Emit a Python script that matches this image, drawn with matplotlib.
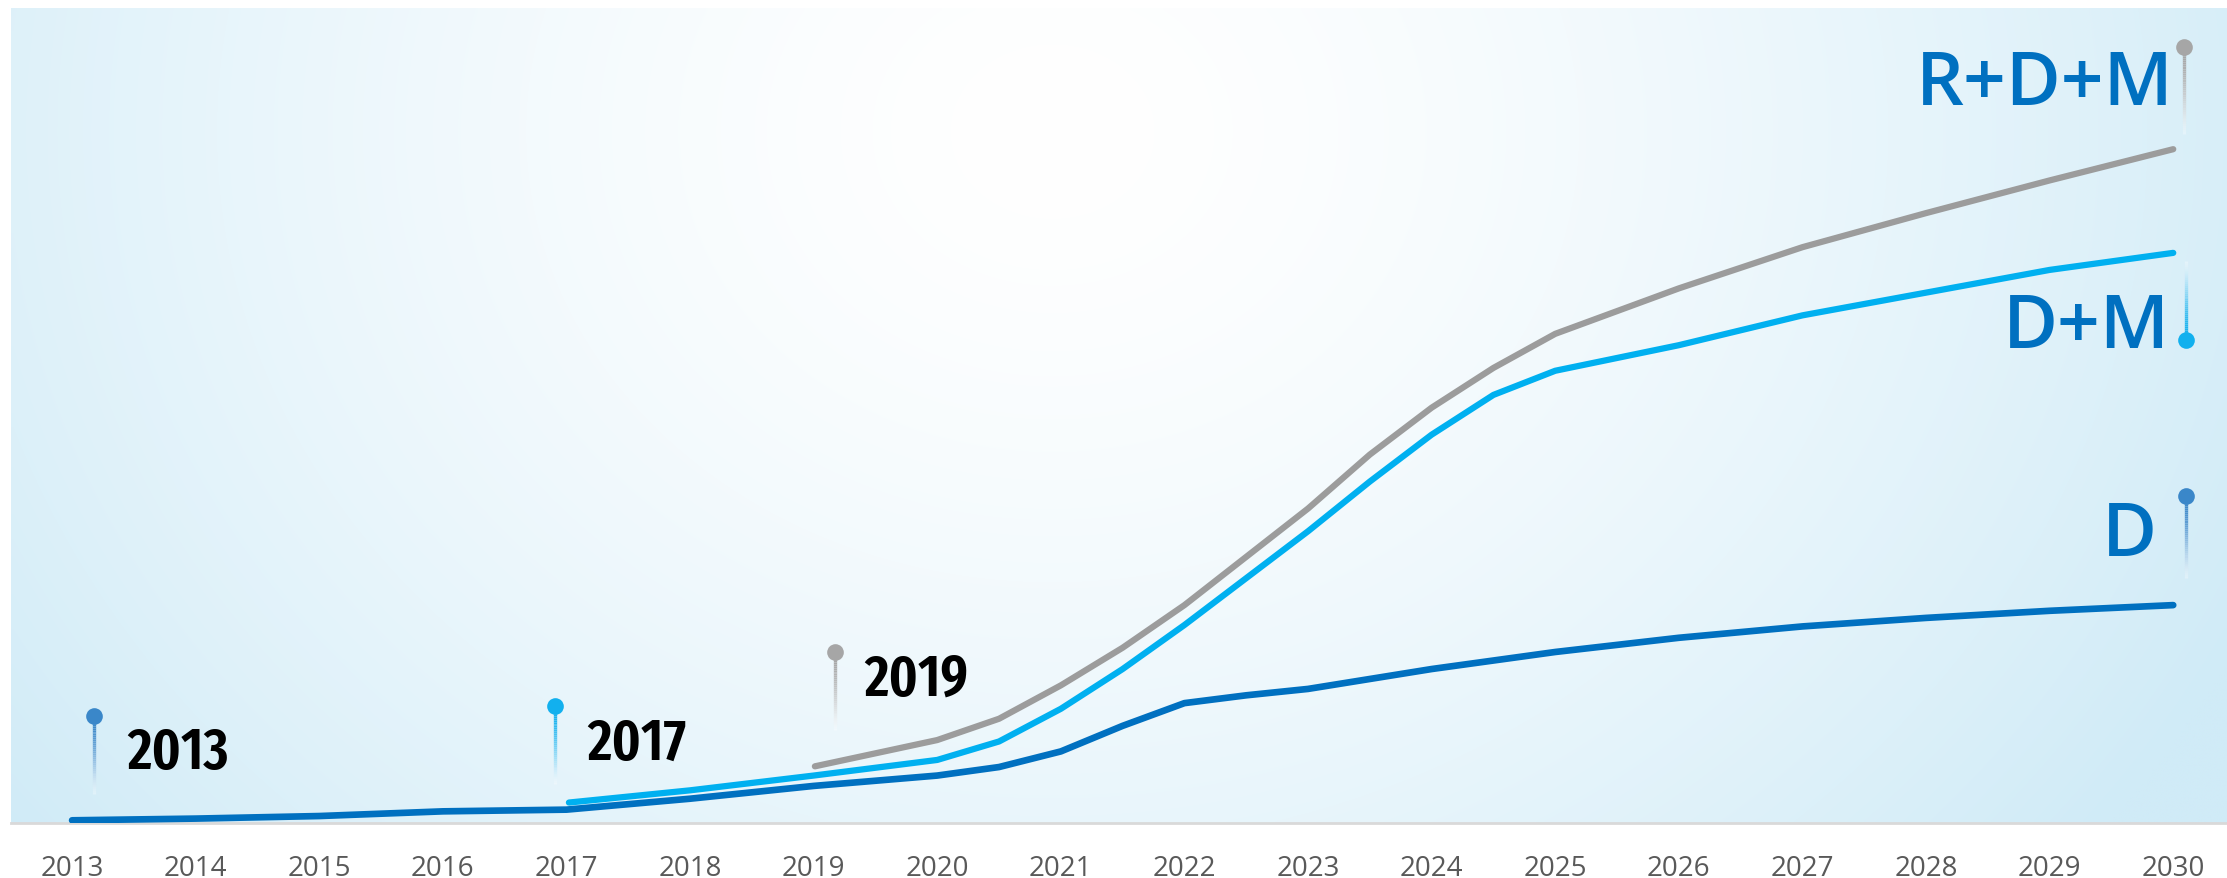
import os
import numpy as np
import matplotlib
matplotlib.use('Agg')
from matplotlib import pyplot as plt
from matplotlib import font_manager
from matplotlib.collections import LineCollection
from matplotlib.colors import to_rgb

# Series values (index units)
years_d = [2013, 2014, 2015, 2016, 2017, 2018, 2019, 2020, 2020.5, 2021, 2021.5,
           2022, 2022.5, 2023, 2024, 2025, 2026, 2027, 2028, 2029, 2030]
vals_d = [0.5, 1.7, 3.5, 6.8, 8, 15.7, 24.7, 32, 38, 49, 67,
          83, 88.5, 93, 107, 119, 129, 137, 143, 148, 152]

years_dm = [2017.02, 2018, 2019, 2020, 2020.5, 2021, 2021.5, 2022, 2022.5, 2023,
            2023.5, 2024, 2024.5, 2025, 2026, 2027, 2028, 2029, 2030]
vals_dm = [13, 21.6, 32, 43, 56, 79, 107, 138, 171, 204,
           239, 272, 300, 317, 335, 356, 372, 388, 400]

years_rdm = [2019.01, 2020, 2020.5, 2021, 2021.5, 2022, 2022.5, 2023, 2023.5,
             2024, 2024.5, 2025, 2026, 2027, 2028, 2029, 2030]
vals_rdm = [38.5, 57, 72, 95.5, 122, 152, 186, 220, 258,
            291, 319, 343, 375, 404, 428, 451, 473]

tick_years = list(range(2013, 2031))

# pins: (x, dot value, stem end value, colour)
pin_x = [2013.18, 2016.91, 2019.17, 2030.09, 2030.1, 2030.1]
pin_top = [74, 81, 119, 545, 339, 229]
pin_end = [19, 26, 64, 484, 394, 171]
pin_colors = ['#3A87C9', '#12B0EE', '#A6A6A6', '#A6A6A6', '#12B0EE', '#3A87C9']

year_labels = ['2013', '2017', '2019']
year_label_x = [2013.45, 2017.17, 2019.41]
year_label_y = [48, 55, 99]

series_labels = ['R+D+M', 'D+M', 'D']
series_label_x = [2030.0, 2029.97, 2029.87]
series_label_y = [518, 347, 201]

c_d = '#0070C0'
c_dm = '#00B0F0'
c_rdm = '#9C9C9C'


def narrow_font():
    # narrow proportional semibold/bold face, if one is installed
    paths = [f.fname for f in font_manager.fontManager.ttflist]
    for key in ['extracondensedsemibold', 'extracondensedbold',
                'narrow-bold', 'narrowbold', 'condensedbold']:
        for fn in paths:
            base = os.path.basename(fn).lower().replace('_', '').replace('-', '')
            if 'mono' in base or 'extrabold' in base:
                continue
            if key.replace('-', '') in base:
                return font_manager.FontProperties(fname=fn)
    return None


W, H = 2227, 879
fig = plt.figure(figsize=(W / 100, H / 100), dpi=100)
fig.patch.set_facecolor('white')
ax = fig.add_axes([11 / W, 55 / H, 1 - 11 / W, (870 - 55) / H])

x0, x1 = 2012.506, 2030.435
y0, y1 = -1.4, 572.4

# soft radial background
u = np.linspace(0, 1, 400)
v = np.linspace(1, 0, 200)
U, V = np.meshgrid(u, v)
d = np.sqrt(((U - 0.47) / 0.6) ** 2 + ((V - 0.85) / 1.4) ** 2)
t = np.clip(d, 0, 1) ** 1.5
edge = np.array(to_rgb('#D0EBF7'))
grad = (1 - t)[..., None] * np.ones(3) + t[..., None] * edge
ax.imshow(grad, extent=(x0, x1, y0, y1), aspect='auto', zorder=0, interpolation='bilinear')

ax.plot(years_d, vals_d, color=c_d, lw=4.8, solid_capstyle='round', solid_joinstyle='round', zorder=3)
ax.plot(years_dm, vals_dm, color=c_dm, lw=4.5, solid_capstyle='round', solid_joinstyle='round', zorder=3)
ax.plot(years_rdm, vals_rdm, color=c_rdm, lw=4.5, solid_capstyle='round', solid_joinstyle='round', zorder=3)

# pins with fading stems
for px, top, end, col in zip(pin_x, pin_top, pin_end, pin_colors):
    n = 40
    ys = np.linspace(top, end, n + 1)
    segs = [[(px, ys[i]), (px, ys[i + 1])] for i in range(n)]
    rgb = np.array(to_rgb(col))
    cols = []
    for i in range(n):
        f = (i / (n - 1)) ** 1.8
        c = rgb * (1 - f) + np.ones(3) * f
        cols.append((*c, 1 - 0.7 * f))
    ax.add_collection(LineCollection(segs, colors=cols, linewidths=2.4, zorder=4))
    ax.plot([px], [top], 'o', color=col, ms=12, mec='none', zorder=5)

fp = narrow_font()
for txt, lx, ly in zip(year_labels, year_label_x, year_label_y):
    if fp is not None:
        ax.text(lx, ly, txt, fontproperties=fp, fontsize=42, color='black',
                ha='left', va='center', zorder=6)
    else:
        ax.text(lx, ly, txt, fontsize=34, fontweight='bold', color='black',
                ha='left', va='center', zorder=6)

for txt, lx, ly in zip(series_labels, series_label_x, series_label_y):
    ax.text(lx, ly, txt, fontsize=54, fontweight='semibold', color=c_d,
            family=['Open Sans', 'DejaVu Sans'], ha='right', va='center', zorder=6)

ax.set_xlim(x0, x1)
ax.set_ylim(y0, y1)
ax.set_xticks(tick_years)
ax.set_xticklabels([str(y) for y in tick_years], fontsize=20, color='#595959', family='Open Sans')
ax.tick_params(axis='x', length=0, pad=22)
ax.set_yticks([])
for s in ['top', 'left', 'right']:
    ax.spines[s].set_visible(False)
ax.spines['bottom'].set_color('#D9D9D9')
ax.spines['bottom'].set_linewidth(2)

fig.savefig('out.png', dpi=100, facecolor='white')
